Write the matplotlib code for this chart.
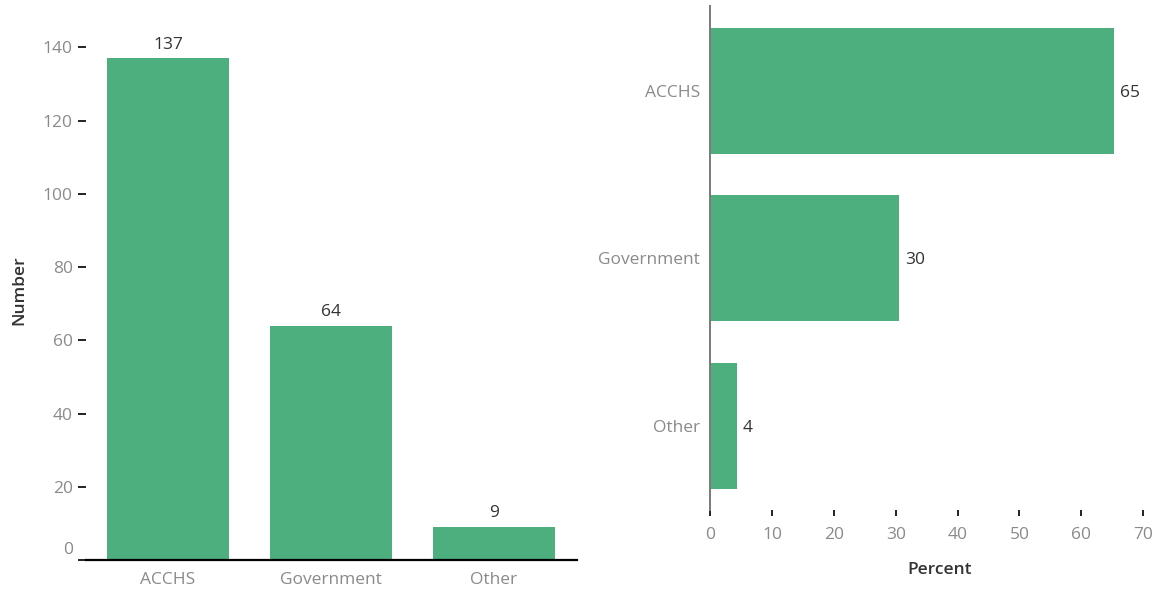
import matplotlib.pyplot as plt
import matplotlib.transforms as mtransforms

plt.rcParams['font.family'] = ['Open Sans', 'DejaVu Sans']

categories = ['ACCHS', 'Government', 'Other']
numbers = [137, 64, 9]
percents = [65.2, 30.5, 4.3]
percent_labels = ['65', '30', '4']
number_ticks = [0, 20, 40, 60, 80, 100, 120, 140]
percent_ticks = [0, 10, 20, 30, 40, 50, 60, 70]

bar_color = '#4caf7d'
tick_grey = '#8a8a8a'
text_dark = '#333333'

fig = plt.figure(figsize=(11.6, 5.91), dpi=100)

# left: counts
ax1 = fig.add_axes([0.0741, 0.0525, 0.4233, 0.9137])
x = range(len(categories))
ax1.bar(x, numbers, width=0.75, color=bar_color)
ax1.set_xlim(-0.503, 2.509)
ax1.set_ylim(0, 147.5)
ax1.set_xticks(list(x))
ax1.set_xticklabels(categories)
ax1.set_yticks(number_ticks)
for s in ['top', 'right', 'left']:
    ax1.spines[s].set_visible(False)
ax1.spines['bottom'].set_color('black')
ax1.spines['bottom'].set_linewidth(1.6)
ax1.tick_params(axis='x', length=0, pad=9, labelsize=12.5, labelcolor=tick_grey)
ax1.tick_params(axis='y', length=6, width=1.4, color='#222222', pad=3.5,
                labelsize=12.5, labelcolor=tick_grey)
# zero label sits a little higher than its tick
zero_lab = ax1.get_yticklabels()[0]
zero_lab.set_transform(zero_lab.get_transform() +
                       mtransforms.ScaledTranslation(0, 12 / 100, fig.dpi_scale_trans))
ax1.set_ylabel('Number', fontsize=12.5, fontweight='semibold', color=text_dark)
ax1.yaxis.set_label_coords(-0.12, 0.5)
for i, v in enumerate(numbers):
    ax1.annotate(str(v), (i, v), xytext=(0, 4), textcoords='offset points',
                 ha='center', va='bottom', fontsize=12.5, color=text_dark)

# right: percent
ax2 = fig.add_axes([0.6121, 0.1371, 0.3836, 0.8528])
y = range(len(categories))
ax2.barh(y, percents, height=0.75, color=bar_color)
ax2.set_ylim(2.5, -0.505)
ax2.set_xlim(0, 71.9)
ax2.set_yticks(list(y))
ax2.set_yticklabels(categories)
ax2.set_xticks(percent_ticks)
for s in ['top', 'right', 'bottom']:
    ax2.spines[s].set_visible(False)
ax2.spines['left'].set_color('#7a7a7a')
ax2.spines['left'].set_linewidth(1.4)
ax2.tick_params(axis='y', length=0, pad=7, labelsize=12.5, labelcolor=tick_grey)
ax2.tick_params(axis='x', length=4, width=1.4, color='#222222', pad=8,
                labelsize=12.5, labelcolor=tick_grey)
ax2.set_xlabel('Percent', fontsize=12.5, fontweight='semibold', color=text_dark)
ax2.xaxis.set_label_coords(0.515, -0.103)
for i, v in enumerate(percents):
    ax2.annotate(percent_labels[i], (v, i), xytext=(4.5, -1.5), textcoords='offset points',
                 ha='left', va='center', fontsize=12.5, color=text_dark)

fig.savefig('out.png', dpi=100)
